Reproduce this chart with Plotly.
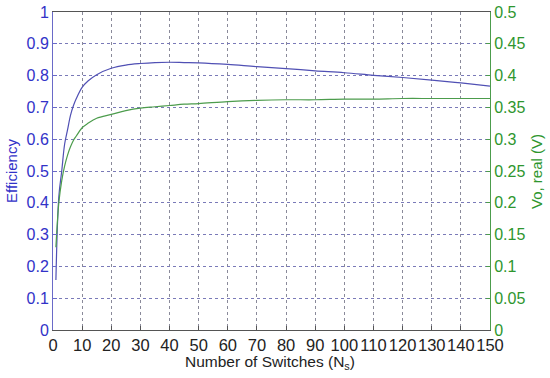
import plotly.graph_objects as go

ns = [1, 2, 3, 4, 5, 6, 7, 8, 10, 12, 15, 20, 25, 30, 35, 40, 45, 50, 60, 70, 80, 90, 100, 110, 120, 130, 140, 150]
efficiency = [0.157, 0.42, 0.50, 0.585, 0.63, 0.675, 0.705, 0.728, 0.763, 0.783, 0.803, 0.823, 0.833, 0.838, 0.841, 0.842, 0.841, 0.840, 0.835, 0.828, 0.822, 0.815, 0.809, 0.801, 0.794, 0.786, 0.777, 0.767]
vo_real = [0.13, 0.20, 0.235, 0.258, 0.275, 0.288, 0.298, 0.305, 0.318, 0.325, 0.333, 0.339, 0.345, 0.349, 0.351, 0.353, 0.355, 0.356, 0.359, 0.361, 0.362, 0.362, 0.363, 0.363, 0.364, 0.364, 0.364, 0.364]

x_ticks = list(range(0, 151, 10))
eff_ticks = [round(i * 0.1, 1) for i in range(11)]
vo_ticks = [round(i * 0.05, 2) for i in range(11)]

BLUE_TXT = "#3232c8"
GREEN_TXT = "#2e962e"
font = "Liberation Sans, Arial, sans-serif"

W, H = 550, 378
L, R, T, B = 53, 60, 12, 48

fig = go.Figure()
fig.add_trace(go.Scatter(x=ns, y=efficiency, mode="lines", line=dict(color="#5050b4", width=1.2),
                         line_shape="spline", showlegend=False))
fig.add_trace(go.Scatter(x=ns, y=vo_real, mode="lines", line=dict(color="#4c9c4c", width=1.2),
                         line_shape="spline", yaxis="y2", showlegend=False))

pw = W - L - R
ph = H - T - B

def px_x(p):
    return (p - L) / pw

def px_y(p):
    return (H - B - p) / ph

fig.update_layout(
    width=W, height=H,
    margin=dict(l=L, r=R, t=T, b=B, autoexpand=False),
    paper_bgcolor="white", plot_bgcolor="white",
    font=dict(family=font, size=15),
    xaxis=dict(range=[0, 150], tickvals=x_ticks, ticktext=[str(v) for v in x_ticks],
               tickangle=0,
               showgrid=True, gridcolor="#8a8a9a", griddash="dot", gridwidth=1,
               showline=True, linecolor="#555555", linewidth=1, mirror=True,
               ticks="inside", ticklen=4, tickcolor="#555555",
               tickfont=dict(color="#222222", size=16.5, family=font),
               automargin=False, zeroline=False),
    yaxis=dict(range=[0, 1], tickvals=eff_ticks, ticktext=[f"{v:g}" for v in eff_ticks],
               showgrid=True, gridcolor="#7a7ab8", griddash="dot", gridwidth=1,
               showline=True, linecolor="#6a6ac8", linewidth=1,
               ticks="inside", ticklen=4, tickcolor="#6a6ac8",
               tickfont=dict(color=BLUE_TXT, size=16, family=font),
               automargin=False, zeroline=False),
    yaxis2=dict(range=[0, 0.5], tickvals=vo_ticks, ticktext=[f"{v:g}" for v in vo_ticks],
                overlaying="y", side="right", showgrid=False,
                showline=True, linecolor="#4c9c4c", linewidth=1,
                ticks="inside", ticklen=4, tickcolor="#4c9c4c",
                tickfont=dict(color=GREEN_TXT, size=16, family=font),
                automargin=False, zeroline=False),
    annotations=[
        dict(text="Number of Switches (N<sub>s</sub>)", xref="paper", yref="paper",
             x=px_x(270), y=px_y(362), showarrow=False, xanchor="center", yanchor="middle",
             font=dict(size=15.5, color="#222222", family=font)),
        dict(text="Efficiency", xref="paper", yref="paper", textangle=-90,
             x=px_x(11), y=px_y(171), showarrow=False, xanchor="center", yanchor="middle",
             font=dict(size=15, color=BLUE_TXT, family=font)),
        dict(text="Vo, real (V)", xref="paper", yref="paper", textangle=-90,
             x=px_x(536), y=px_y(172), showarrow=False, xanchor="center", yanchor="middle",
             font=dict(size=15, color=GREEN_TXT, family=font)),
    ],
)

fig.write_html("out.html", config={"displayModeBar": False},
               post_script="document.body.style.margin='0';document.body.style.overflow='hidden';")
